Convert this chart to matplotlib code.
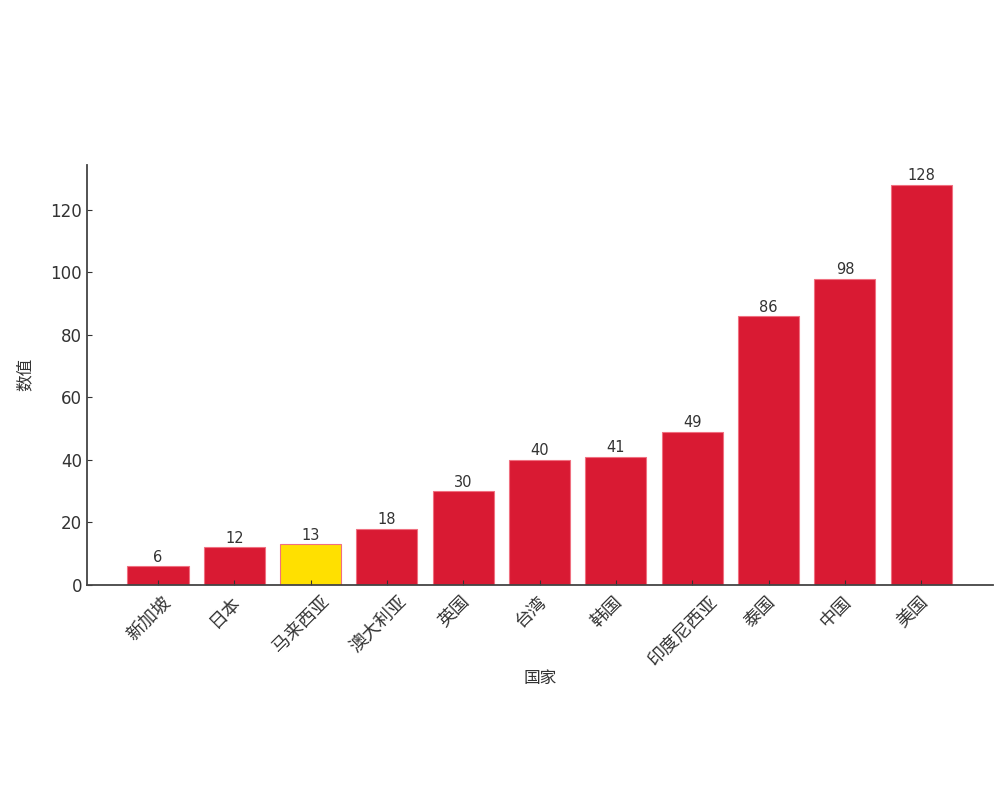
import matplotlib.pyplot as plt
import matplotlib.transforms as mtransforms

plt.rcParams['font.family'] = ['DejaVu Sans', 'Noto Sans CJK SC']

countries = ['新加坡', '日本', '马来西亚', '澳大利亚', '英国', '台湾', '韩国', '印度尼西亚', '泰国', '中国', '美国']
values = [6, 12, 13, 18, 30, 40, 41, 49, 86, 98, 128]
highlight = '马来西亚'

colors = ['#ffe000' if c == highlight else '#d91a33' for c in countries]

fig = plt.figure(figsize=(10, 8), dpi=100)
ax = fig.add_axes([0.087, 0.269, 0.906, 0.525])

bars = ax.bar(range(len(countries)), values, width=0.8, color=colors,
              edgecolor='#f07080', linewidth=0.8)
ax.bar_label(bars, labels=[str(v) for v in values], fontsize=10.5, color='#333333', padding=1)

ax.set_xlim(-0.93, len(countries) - 1 + 0.94)
ax.set_ylim(0, 134.4)
ax.set_xticks(range(len(countries)))
ax.set_xticklabels(countries, rotation=45, fontsize=13, color='#333333')
ax.set_yticks([0, 20, 40, 60, 80, 100, 120])
ax.tick_params(axis='y', labelsize=12, colors='#333333', direction='in')
ax.tick_params(axis='x', direction='in', colors='#333333')
ax.set_xlabel('国家', fontsize=12, color='#333333', labelpad=0)
ax.set_ylabel('数值', fontsize=12, color='#333333', labelpad=12)

# nudge rotated labels a little left/down like the original
offset = mtransforms.ScaledTranslation(-9 / 100, -3 / 100, fig.dpi_scale_trans)
for lab in ax.get_xticklabels():
    lab.set_transform(lab.get_transform() + offset)

for s in ['top', 'right']:
    ax.spines[s].set_visible(False)
for s in ['left', 'bottom']:
    ax.spines[s].set_color('#444444')
    ax.spines[s].set_linewidth(1.3)

fig.savefig('out.png')
